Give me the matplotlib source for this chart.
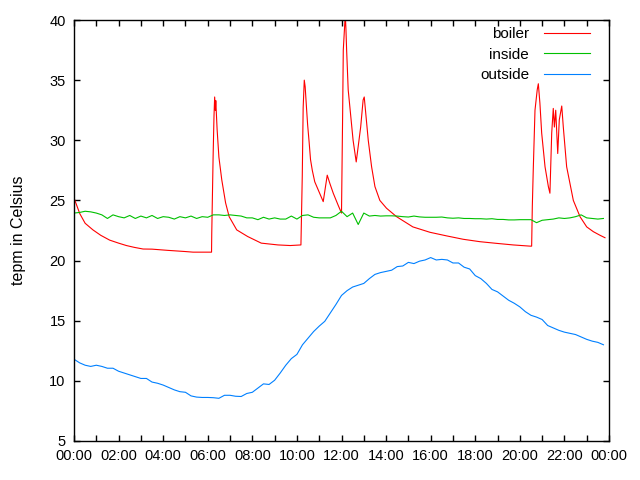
import matplotlib
matplotlib.use("Agg")
import matplotlib.pyplot as plt
import numpy as np

# ---- data (hours of day) ----
boiler_t = [0.0, 0.26, 0.5, 0.85, 1.2, 1.6, 2.0, 2.35, 2.7, 3.1, 3.5, 3.85, 4.2, 4.6, 5.0, 5.34, 5.8, 6.17,
            6.18, 6.21, 6.24, 6.28, 6.31, 6.34, 6.36, 6.42, 6.5, 6.63, 6.8, 6.96, 7.3, 7.79, 8.4, 9.15, 9.7, 10.18,
            10.24, 10.28, 10.33, 10.37, 10.43, 10.48, 10.55, 10.61, 10.69, 10.8, 10.95, 11.18, 11.36, 11.48, 11.63,
            11.85, 12.0, 12.05, 12.08, 12.17, 12.2, 12.23, 12.3, 12.4, 12.52, 12.66, 12.75, 12.86, 12.97, 13.02,
            13.1, 13.2, 13.35, 13.5, 13.72, 14.02, 14.47, 15.2, 15.97, 16.72, 17.46, 18.21, 18.96, 19.7, 20.46,
            20.53, 20.56, 20.6, 20.68, 20.78, 20.83, 20.9, 20.98, 21.13, 21.28, 21.35, 21.43, 21.5, 21.55, 21.61,
            21.7, 21.77, 21.88, 21.95, 22.1, 22.4, 22.7, 23.0, 23.3, 23.6, 23.82]
boiler_v = [25.2, 23.9, 23.1, 22.55, 22.1, 21.7, 21.45, 21.25, 21.1, 20.96, 20.95, 20.9, 20.85, 20.8, 20.75, 20.7, 20.7, 20.7,
            22.3, 25.45, 28.6, 32.0, 33.6, 32.5, 33.3, 30.9, 28.6, 26.7, 24.8, 23.65, 22.55, 22.0, 21.45, 21.3, 21.25, 21.3,
            27.0, 32.7, 35.0, 34.45, 32.7, 31.3, 29.8, 28.4, 27.5, 26.55, 25.9, 24.9, 27.1, 26.4, 25.6,
            24.6, 23.95, 32.0, 37.5, 40.5, 39.2, 37.5, 34.2, 32.3, 30.0, 28.2, 29.5, 31.1, 33.35, 33.6,
            32.0, 30.0, 27.8, 26.15, 25.0, 24.35, 23.65, 22.8, 22.35, 22.05, 21.77, 21.57, 21.43, 21.3, 21.2,
            21.2, 24.5, 27.4, 32.5, 34.2, 34.7, 33.1, 30.6, 27.8, 26.15, 25.6, 30.6, 32.65, 31.1, 32.5,
            28.9, 31.7, 32.85, 31.1, 27.8, 25.0, 23.65, 22.8, 22.4, 22.1, 21.9]

t15 = [i * 0.25 for i in range(96)]

inside_v = [23.95, 24.0, 24.1, 24.05, 23.95, 23.8, 23.5, 23.8, 23.65, 23.55, 23.75, 23.5,
            23.7, 23.55, 23.75, 23.5, 23.65, 23.6, 23.45, 23.65, 23.55, 23.7, 23.5, 23.65,
            23.6, 23.8, 23.8, 23.75, 23.8, 23.75, 23.7, 23.55, 23.55, 23.4, 23.6, 23.45,
            23.55, 23.45, 23.45, 23.7, 23.45, 23.75, 23.8, 23.6, 23.55, 23.55, 23.55, 23.75,
            24.1, 23.65, 23.95, 23.0, 23.95, 23.7, 23.75, 23.7, 23.72, 23.72, 23.7, 23.65,
            23.62, 23.7, 23.63, 23.6, 23.6, 23.6, 23.62, 23.55, 23.52, 23.55, 23.5, 23.5,
            23.48, 23.48, 23.45, 23.48, 23.42, 23.42, 23.38, 23.38, 23.4, 23.4, 23.4, 23.15,
            23.35, 23.4, 23.45, 23.55, 23.5, 23.55, 23.65, 23.8, 23.55, 23.5, 23.45, 23.5]

outside_v = [11.8, 11.5, 11.3, 11.2, 11.3, 11.2, 11.05, 11.05, 10.8, 10.65, 10.5, 10.35,
             10.2, 10.2, 9.9, 9.8, 9.65, 9.45, 9.25, 9.1, 9.05, 8.75, 8.65, 8.62,
             8.62, 8.6, 8.55, 8.8, 8.8, 8.72, 8.7, 8.95, 9.05, 9.4, 9.75, 9.7,
             10.05, 10.65, 11.3, 11.85, 12.2, 13.0, 13.55, 14.1, 14.55, 14.95, 15.65, 16.35,
             17.1, 17.5, 17.8, 17.95, 18.1, 18.5, 18.85, 19.0, 19.1, 19.2, 19.5, 19.55,
             19.85, 19.75, 19.95, 20.05, 20.25, 20.05, 20.1, 20.05, 19.8, 19.8, 19.45, 19.3,
             18.75, 18.5, 18.1, 17.6, 17.4, 17.05, 16.7, 16.45, 16.15, 15.75, 15.45, 15.3,
             15.1, 14.6, 14.4, 14.2, 14.05, 13.95, 13.85, 13.65, 13.45, 13.3, 13.2, 13.0]

xtick_pos = list(range(0, 25, 2))
xtick_labels = ["00:00", "02:00", "04:00", "06:00", "08:00", "10:00", "12:00",
                "14:00", "16:00", "18:00", "20:00", "22:00", "00:00"]
ytick_pos = [5, 10, 15, 20, 25, 30, 35, 40]

plt.rcParams['font.family'] = ['Liberation Sans', 'DejaVu Sans']

fig = plt.figure(figsize=(6.4, 4.8), dpi=100)
ax = fig.add_axes([74/640, 39/480, 535/640, 421/480])

lw = 0.8
ax.plot(boiler_t, boiler_v, color='#ff0000', lw=lw, label='boiler')
ax.plot(t15, inside_v, color='#00c000', lw=lw, label='inside')
ax.plot(t15, outside_v, color='#0080ff', lw=lw, label='outside')

ax.set_xlim(0, 24)
ax.set_ylim(5, 40)
ax.set_xticks(xtick_pos)
ax.set_xticklabels(xtick_labels)
ax.set_xticks(list(range(1, 24, 2)), minor=True)
ax.set_yticks(ytick_pos)
ax.tick_params(axis='both', which='both', direction='in', top=True, right=True,
               length=4, width=1, labelsize=10.5, pad=6, colors='black')
for s in ax.spines.values():
    s.set_linewidth(1)
ax.set_ylabel('tepm in Celsius', fontsize=11.5, labelpad=17)

leg = ax.legend(loc='upper right', frameon=False, markerfirst=False, fontsize=11,
                handlelength=3.0, handletextpad=1.0, labelspacing=0.42,
                borderaxespad=0.3, bbox_to_anchor=(0.985, 1.008))
for t in leg.get_texts():
    t.set_ha('right')

fig.savefig('out.png', dpi=100)
